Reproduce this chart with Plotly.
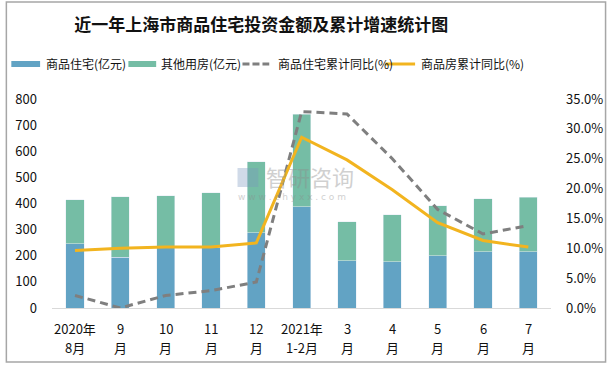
import plotly.graph_objects as go

# ---- data ----
categories = ["2020年\n8月", "9\n月", "10\n月", "11\n月", "12\n月", "2021年\n1-2月",
              "3\n月", "4\n月", "5\n月", "6\n月", "7\n月"]
residential = [246, 194, 232, 232, 288, 388, 181, 178, 200, 216, 216]
other_use = [169, 232, 198, 210, 272, 353, 150, 179, 192, 203, 207]
residential_yoy = [2.1, 0.0, 2.1, 2.9, 4.35, 32.9, 32.5, 25.0, 16.5, 12.4, 13.8]
commercial_yoy = [9.65, 10.0, 10.2, 10.2, 10.9, 28.6, 24.8, 19.8, 14.3, 11.3, 10.2]

series_names = ["商品住宅(亿元)", "其他用房(亿元)", "商品住宅累计同比(%)", "商品房累计同比(%)"]
title_text = "近一年上海市商品住宅投资金额及累计增速统计图"

C_BLUE = "#62A3C4"
C_GREEN = "#75BDA5"
C_GRAY = "#7F7F7F"
C_YELLOW = "#F2B41F"

W, H = 615, 367
ML, MR, MT, MB = 52, 60, 99, 59
PW = W - ML - MR
PH = H - MT - MB


def px(x):
    return (x - ML) / PW


def py(y):
    return (H - MB - y) / PH


fig = go.Figure()
fig.add_trace(go.Bar(x=categories, y=residential, name=series_names[0], marker_color=C_BLUE))
fig.add_trace(go.Bar(x=categories, y=other_use, name=series_names[1], marker_color=C_GREEN))
fig.add_trace(go.Scatter(x=categories, y=[v / 100 for v in residential_yoy], name=series_names[2],
                         mode="lines", yaxis="y2",
                         line=dict(color=C_GRAY, width=3, dash="8px,5px")))
fig.add_trace(go.Scatter(x=categories, y=[v / 100 for v in commercial_yoy], name=series_names[3],
                         mode="lines", yaxis="y2",
                         line=dict(color=C_YELLOW, width=3)))

FONT = "Noto Sans CJK SC, Liberation Sans, sans-serif"

fig.update_layout(
    width=W, height=H,
    margin=dict(l=ML, r=MR, t=MT, b=MB),
    paper_bgcolor="white", plot_bgcolor="white",
    barmode="stack", bargap=0.6,
    showlegend=False,
    font=dict(family=FONT, size=13, color="#111111"),
    title=dict(text="<b>" + title_text + "</b>", x=px(263), xref="paper", xanchor="center",
               y=1 - 25 / H, yref="container", yanchor="middle",
               font=dict(family=FONT, size=17, color="#111111")),
    xaxis=dict(type="category", showgrid=False, showline=True, linecolor="#D9D9D9", linewidth=1,
               ticks="", showticklabels=False, fixedrange=True),
    yaxis=dict(range=[0, 800], dtick=100, showgrid=False, zeroline=False, showline=False,
               tickfont=dict(size=13, color="#111111"), ticklabelstandoff=14),
    yaxis2=dict(range=[0, 0.35], dtick=0.05, tickformat=".1%", overlaying="y", side="right",
                showgrid=False, zeroline=False, showline=False,
                tickfont=dict(size=13, color="#111111"), ticklabelstandoff=14),
)

# custom legend
ly = 64
shapes = [
    dict(type="rect", xref="paper", yref="paper", x0=px(6), x1=px(610), y0=py(362), y1=py(2),
         line=dict(color="#A6A6A6", width=1.5), fillcolor="rgba(0,0,0,0)", layer="above"),
    dict(type="rect", xref="paper", yref="paper", x0=px(11), x1=px(40), y0=py(ly + 3), y1=py(ly - 3),
         line=dict(width=0), fillcolor=C_BLUE),
    dict(type="rect", xref="paper", yref="paper", x0=px(129), x1=px(157), y0=py(ly + 3), y1=py(ly - 3),
         line=dict(width=0), fillcolor=C_GREEN),
    dict(type="line", xref="paper", yref="paper", x0=px(244), x1=px(271), y0=py(ly), y1=py(ly),
         line=dict(color=C_GRAY, width=3, dash="7px,3px")),
    dict(type="line", xref="paper", yref="paper", x0=px(388), x1=px(418), y0=py(ly), y1=py(ly),
         line=dict(color=C_YELLOW, width=3)),
]
annotations = []
for tx, name in zip([44, 160, 278, 422], series_names):
    annotations.append(dict(x=px(tx), y=py(ly), xref="paper", yref="paper", text=name,
                            showarrow=False, xanchor="left", yanchor="middle",
                            font=dict(family=FONT, size=12, color="#111111")))

# x category labels (two lines each)
for cat in categories:
    top, bottom = cat.split("\n")
    annotations.append(dict(x=cat, y=py(328), xref="x", yref="paper", text=top, showarrow=False,
                            xanchor="center", yanchor="middle",
                            font=dict(family=FONT, size=13, color="#111111")))
    annotations.append(dict(x=cat, y=py(347), xref="x", yref="paper", text=bottom, showarrow=False,
                            xanchor="center", yanchor="middle",
                            font=dict(family=FONT, size=13, color="#111111")))

# watermark
annotations.append(dict(x=px(266), y=py(176), xref="paper", yref="paper", text="智研咨询",
                        showarrow=False, xanchor="left", yanchor="middle", opacity=0.4,
                        font=dict(family=FONT, size=22, color="#8C8C8C")))
annotations.append(dict(x=px(237), y=py(197), xref="paper", yref="paper",
                        text="w w w . c h y x x . c o m",
                        showarrow=False, xanchor="left", yanchor="middle", opacity=0.4,
                        font=dict(family="DejaVu Sans, sans-serif", size=9, color="#8C8C8C")))
shapes.append(dict(type="rect", xref="paper", yref="paper", x0=px(239), x1=px(260), y0=py(187),
                   y1=py(168), line=dict(width=0), fillcolor="rgba(120,150,190,0.35)"))

fig.update_layout(shapes=shapes, annotations=annotations)
fig.write_html("out.html", config={"displayModeBar": False},
               post_script="document.body.style.margin='0';document.body.style.overflow='hidden';")
